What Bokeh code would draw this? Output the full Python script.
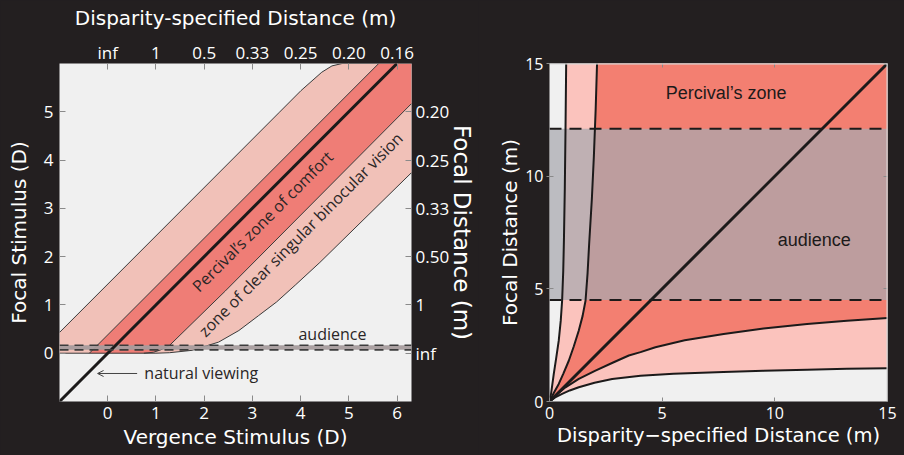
from bokeh.plotting import figure
from bokeh.models import Range1d, LinearAxis, FixedTicker, Label, Arrow, OpenHead, Span
from bokeh.layouts import row
from bokeh.embed import file_html
from bokeh.resources import INLINE

# ---------------- Left panel data (diopters) ----------------
LEFT_X = (-1.0, 6.3)
LEFT_Y = (-1.0, 6.0)
vergence_ticks = [0, 1, 2, 3, 4, 5, 6]
focal_ticks = [0, 1, 2, 3, 4, 5]
top_tick_labels = ["inf", "1", "0.5", "0.33", "0.25", "0.20", "0.16"]
right_tick_labels = ["inf", "1", "0.50", "0.33", "0.25", "0.20"]

natural_x = [-1.0, 6.0]
natural_y = [-1.0, 6.0]
zcsbv_upper_x = [-1.0, 3.56, 4.01, 4.44, 4.65, 4.86, 6.3]
zcsbv_upper_y = [0.43, 4.99, 5.44, 5.82, 5.95, 6.0, 6.0]
zcsbv_lower_x = [-1.0, 1.0, 1.28, 1.75, 2.3, 2.72, 3.13, 3.5, 3.9, 4.4, 6.3]
zcsbv_lower_y = [0.0, 0.0, 0.01, 0.06, 0.23, 0.47, 0.78, 1.06, 1.42, 1.88, 3.74]
percival_upper_x = [-0.38, 5.62]
percival_upper_y = [0.0, 6.0]
percival_lower_x = [0.75, 0.95, 1.1, 1.28, 2.44, 6.3]
percival_lower_y = [0.0, 0.02, 0.07, 0.16, 1.29, 5.17]
audience_D = [0.07, 0.165]

# ---------------- Right panel data (metres) ----------------
RIGHT_R = (0.0, 15.0)
metre_ticks = [0, 5, 10, 15]
c1_x = [0, 0.07, 0.19, 0.30, 0.41, 0.50, 0.56, 0.61, 0.64, 0.68, 0.71, 0.74]
c1_y = [0, 0.35, 1.23, 1.95, 2.70, 3.60, 4.48, 5.80, 7.14, 9.5, 12.0, 15.0]
c2_x = [0, 0.20, 0.41, 0.62, 0.86, 1.08, 1.30, 1.47, 1.60, 1.69, 1.76, 1.88, 1.97, 2.05, 2.11]
c2_y = [0, 0.40, 0.78, 1.25, 1.82, 2.45, 3.15, 3.80, 4.48, 5.70, 7.00, 9.00, 10.9, 13.0, 15.0]
c3_x = [0, 0.35, 0.71, 1.30, 2.04, 2.80, 3.52, 4.04, 4.70, 6.00, 7.73, 9.50, 11.43, 13.2, 15.0]
c3_y = [0, 0.33, 0.63, 1.00, 1.37, 1.72, 2.04, 2.19, 2.41, 2.72, 3.00, 3.24, 3.44, 3.58, 3.71]
c4_x = [0, 0.25, 0.56, 0.90, 1.30, 2.00, 2.78, 4.04, 5.50, 7.72, 9.50, 11.43, 13.2, 15.0]
c4_y = [0, 0.18, 0.34, 0.49, 0.63, 0.83, 1.00, 1.14, 1.23, 1.31, 1.36, 1.41, 1.45, 1.48]
diag_x = [0, 15]
diag_y = [0, 15]
audience_m = [4.5, 12.1]

BG = "#231f20"
PLOT_BG = "#f0f0f0"
TICK_FONT = "Open Sans"
TITLE_FONT = "DejaVu Sans"
LABEL_FONT = "Liberation Sans"


def style_axis(ax, tick_size, tick_in=6, tick_out=0, standoff=4,
               title=None, title_size="20px", title_standoff=0):
    ax.axis_line_color = None
    ax.major_tick_line_color = "#8a8a8a"
    ax.major_tick_in = tick_in
    ax.major_tick_out = tick_out
    ax.minor_tick_line_color = None
    ax.major_label_text_color = "white"
    ax.major_label_text_font = TICK_FONT
    ax.major_label_text_font_size = tick_size
    ax.major_label_standoff = standoff
    if title is not None:
        ax.axis_label = title
        ax.axis_label_text_color = "white"
        ax.axis_label_text_font = TITLE_FONT
        ax.axis_label_text_font_size = title_size
        ax.axis_label_text_font_style = "normal"
        ax.axis_label_standoff = title_standoff


# ======================= LEFT FIGURE =======================
p1 = figure(width=478, height=455, x_range=Range1d(*LEFT_X), y_range=Range1d(*LEFT_Y),
            output_backend="svg", toolbar_location=None,
            min_border_left=59, min_border_right=65, min_border_top=61, min_border_bottom=54,
            background_fill_color=PLOT_BG, border_fill_color=BG, outline_line_color=None)
p1.grid.visible = False

p1.xaxis.ticker = FixedTicker(ticks=vergence_ticks)
style_axis(p1.xaxis[0], "17px", standoff=5, title="Vergence Stimulus (D)", title_standoff=3)
p1.yaxis.ticker = FixedTicker(ticks=focal_ticks)
style_axis(p1.yaxis[0], "17px", standoff=6, title="Focal Stimulus (D)", title_standoff=10)

top_ax = LinearAxis(ticker=FixedTicker(ticks=vergence_ticks),
                    major_label_overrides={t: l for t, l in zip(vergence_ticks, top_tick_labels)})
style_axis(top_ax, "17px", standoff=0, title="Disparity-specified Distance (m)", title_standoff=8)
p1.add_layout(top_ax, "above")

right_ax = LinearAxis(ticker=FixedTicker(ticks=focal_ticks),
                      major_label_overrides={t: l for t, l in zip(focal_ticks, right_tick_labels)})
style_axis(right_ax, "17px", standoff=4, title="Focal Distance (m)", title_size="23px",
           title_standoff=-3)
p1.add_layout(right_ax, "right")

LIGHT_L = "#f1c1b8"
DARK_L = "#ef7d76"
EDGE = "#3a3a3a"

# zone of clear single binocular vision (light)
p1.patch(zcsbv_upper_x + zcsbv_lower_x[::-1], zcsbv_upper_y + zcsbv_lower_y[::-1],
         fill_color=LIGHT_L, line_color=None)
# Percival's zone (dark)
p1.patch(percival_upper_x + [LEFT_X[1]] + percival_lower_x[::-1],
         percival_upper_y + [LEFT_Y[1]] + percival_lower_y[::-1],
         fill_color=DARK_L, line_color=None)
for xs, ys in [(zcsbv_upper_x, zcsbv_upper_y), (zcsbv_lower_x, zcsbv_lower_y),
               (percival_upper_x, percival_upper_y), (percival_lower_x, percival_lower_y)]:
    p1.line(xs, ys, line_color=EDGE, line_width=1)

# audience band
p1.quad(left=LEFT_X[0], right=LEFT_X[1], bottom=audience_D[0], top=audience_D[1],
        fill_color="#a59b9c", fill_alpha=0.95, line_color=None)
p1.line(natural_x, natural_y, line_color="#1c1a1a", line_width=3)
for loc in audience_D:
    p1.add_layout(Span(location=loc, dimension="width", line_color="#3c3c3c",
                       line_width=1.6, line_dash="9 6"))

txt = dict(text_font=TICK_FONT, text_font_size="16px", text_color="#2a2626",
           text_align="center", text_baseline="middle")
p1.add_layout(Label(x=3.21, y=2.73, text="Percival\u2019s zone of comfort",
                    angle=45, angle_units="deg", **txt))
p1.add_layout(Label(x=4.0, y=2.46, text="zone of clear singular binocular vision",
                    angle=45, angle_units="deg", **txt))
p1.add_layout(Label(x=4.66, y=0.40, text="audience", **txt))
p1.add_layout(Label(x=0.76, y=-0.42, text="natural viewing",
                    text_font=TICK_FONT, text_font_size="16px", text_color="#2a2626",
                    text_align="left", text_baseline="middle"))
p1.add_layout(Arrow(end=OpenHead(size=6, line_color="#444444", line_width=1),
                    x_start=0.61, y_start=-0.42, x_end=-0.21, y_end=-0.42,
                    line_color="#444444", line_width=1))

# ======================= RIGHT FIGURE =======================
p2 = figure(width=426, height=455, x_range=Range1d(*RIGHT_R), y_range=Range1d(*RIGHT_R),
            output_backend="svg", toolbar_location=None,
            min_border_left=71, min_border_right=17, min_border_top=63, min_border_bottom=54,
            background_fill_color=PLOT_BG, border_fill_color=BG, outline_line_color=None)
p2.grid.visible = False
p2.xaxis.ticker = FixedTicker(ticks=metre_ticks)
style_axis(p2.xaxis[0], "16px", tick_in=4, tick_out=0, standoff=5,
           title="Disparity\u2212specified Distance (m)", title_size="19.5px", title_standoff=2)
p2.yaxis.ticker = FixedTicker(ticks=metre_ticks)
style_axis(p2.yaxis[0], "16px", tick_in=4, tick_out=3, standoff=3,
           title="Focal Distance (m)", title_standoff=0)
for side in ["above", "right"]:
    ax = LinearAxis(ticker=FixedTicker(ticks=metre_ticks))
    style_axis(ax, "0px", tick_in=4, tick_out=0, standoff=0)
    ax.major_label_text_alpha = 0
    p2.add_layout(ax, side)

LIGHT_R = "#fbc3bd"
DARK_R = "#f37f71"
p2.patch(c1_x + [RIGHT_R[1]] + c4_x[::-1], c1_y + [RIGHT_R[1]] + c4_y[::-1],
         fill_color=LIGHT_R, line_color=None)
p2.patch(c2_x + [RIGHT_R[1]] + c3_x[::-1], c2_y + [RIGHT_R[1]] + c3_y[::-1],
         fill_color=DARK_R, line_color=None)
p2.quad(left=RIGHT_R[0], right=RIGHT_R[1], bottom=audience_m[0], top=audience_m[1],
        fill_color="#a8a9af", fill_alpha=0.73, line_color=None)
for xs, ys in [(c1_x, c1_y), (c2_x, c2_y), (c3_x, c3_y), (c4_x, c4_y)]:
    p2.line(xs, ys, line_color="#1c1a1a", line_width=2)
p2.line(diag_x, diag_y, line_color="#1c1a1a", line_width=3)
for loc in audience_m:
    p2.add_layout(Span(location=loc, dimension="width", line_color="#1c1a1a",
                       line_width=2, line_dash="12 8"))
# light frame edges on the top and right (as in the reference)
p2.add_layout(Span(location=RIGHT_R[1], dimension="width", line_color="#d9d9d9", line_width=2))
p2.add_layout(Span(location=RIGHT_R[1], dimension="height", line_color="#d9d9d9", line_width=2))
rt = dict(text_font=LABEL_FONT, text_font_size="18px", text_color="#1c1a1a",
          text_align="center", text_baseline="middle")
p2.add_layout(Label(x=7.84, y=13.7, text="Percival\u2019s zone", **rt))
p2.add_layout(Label(x=11.75, y=7.18, text="audience", **rt))

layout = row(p1, p2)
html = file_html(layout, INLINE)
html = html.replace("<head>", "<head><style>html,body{background:#231f20;}</style>", 1)
open("out.html", "w").write(html)
